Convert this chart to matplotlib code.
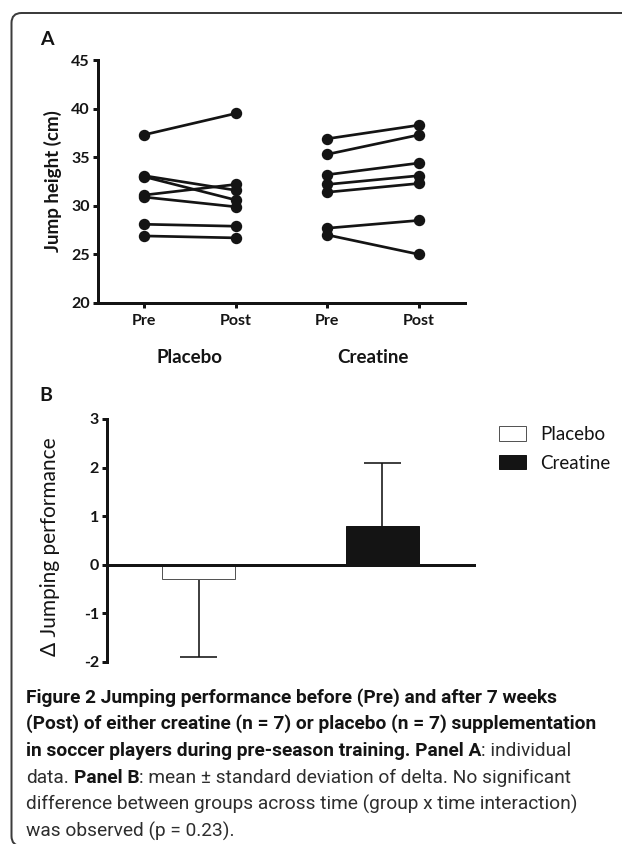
import matplotlib
matplotlib.use('Agg')
import matplotlib.pyplot as plt
from matplotlib import font_manager
from matplotlib.patches import FancyBboxPatch
from matplotlib.transforms import IdentityTransform
import numpy as np

plt.rcParams['axes.unicode_minus'] = False

# ---------------- data ----------------
conditions = ['Pre', 'Post', 'Pre', 'Post']
groups = ['Placebo', 'Creatine']
placebo_pre = [37.3, 33.1, 33.0, 31.1, 30.9, 28.1, 26.9]
placebo_post = [39.5, 31.6, 30.6, 32.2, 29.9, 27.9, 26.7]
creatine_pre = [36.9, 35.3, 33.2, 32.2, 31.4, 27.7, 27.0]
creatine_post = [38.3, 37.3, 34.4, 33.1, 32.3, 28.5, 25.0]
yticks_a = [20, 25, 30, 35, 40, 45]
delta_mean = [-0.3, 0.8]
delta_sd = [1.6, 1.3]
yticks_b = [-2, -1, 0, 1, 2, 3]

caption = [
    [("Figure 2 Jumping performance before (Pre) and after 7 weeks", 'bold', False)],
    [("(Post) of either creatine (n = 7) or placebo (n = 7) supplementation", 'bold', False)],
    [("in soccer players during pre-season training. Panel A", 'bold', False),
     (": individual", 'normal', False)],
    [("data.", 'normal', False), ("Panel B", 'bold', True),
     (": mean \u00b1 standard deviation of delta. No significant", 'normal', False)],
    [("difference between groups across time (group x time interaction)", 'normal', False)],
    [("was observed (p = 0.23).", 'normal', False)],
]

# ---------------- fonts ----------------
available = {f.name for f in font_manager.fontManager.ttflist}
def pick(cands):
    for c in cands:
        if c in available:
            return c
    return 'DejaVu Sans'
AX_FONT = pick(['Lato', 'Open Sans', 'DejaVu Sans'])
CAP_FONT = pick(['Roboto', 'Open Sans', 'DejaVu Sans'])
plt.rcParams['font.family'] = [AX_FONT, 'DejaVu Sans']

W, H = 622, 844
DARK = '#141414'
PX = 0.72  # points per pixel at dpi 100

fig = plt.figure(figsize=(W / 100, H / 100), dpi=100)

def box(l, t, r, b):
    return [l / W, 1 - b / H, (r - l) / W, (b - t) / H]

def style_axes(ax):
    for s in ['top', 'right']:
        ax.spines[s].set_visible(False)
    for s in ['left', 'bottom']:
        ax.spines[s].set_linewidth(3 * PX)
        ax.spines[s].set_color(DARK)
    ax.tick_params(axis='both', direction='out', length=5 * PX, width=3 * PX,
                   color=DARK, labelsize=11.5, labelcolor=DARK)
    for lab in ax.get_xticklabels() + ax.get_yticklabels():
        lab.set_fontweight('bold')

# ---------------- panel A ----------------
axA = fig.add_axes(box(98, 60, 465, 303))
xa = np.arange(len(conditions))
for pre, post, (i0, i1) in [(placebo_pre, placebo_post, (0, 1)),
                             (creatine_pre, creatine_post, (2, 3))]:
    xs = np.array([[xa[i0]] * len(pre), [xa[i1]] * len(post)])
    ys = np.array([pre, post])
    axA.plot(xs, ys, '-o', color=DARK, lw=2.7 * PX, ms=10 * PX, clip_on=False)
axA.set_xlim(-0.5, 3.5)
axA.set_ylim(20, 45)
axA.set_yticks(yticks_a)
axA.set_xticks(xa)
axA.set_xticklabels(conditions)
style_axes(axA)
axA.tick_params(axis='y', pad=2.5)
axA.tick_params(axis='x', pad=4.5)
axA.set_ylabel('Jump height (cm)', fontsize=13.5, fontweight='bold', color=DARK, va='center')
axA.yaxis.set_label_coords((53 - 98) / (465 - 98), 0.5)
for gi, g in enumerate(groups):
    axA.text((xa[2 * gi] + xa[2 * gi + 1]) / 2, (303 - 362.7) / 243, g,
             transform=axA.get_xaxis_transform(), ha='center', va='baseline',
             fontsize=13.5, fontweight='bold', color=DARK)
fig.text(40 / W, 1 - 45 / H, 'A', fontsize=14, fontweight='bold', color=DARK,
         ha='left', va='baseline')

# ---------------- panel B ----------------
axB = fig.add_axes(box(107, 419, 474, 661.7))
xb = np.arange(len(groups))
bars = axB.bar(xb, delta_mean, width=0.4, color=['white', DARK],
               edgecolor=['#555555', DARK], linewidth=1.0 * PX, zorder=2)
for x, m, s in zip(xb, delta_mean, delta_sd):
    end = m + np.sign(m) * s
    axB.vlines(x, m, end, color=DARK, lw=1.6 * PX, zorder=1)
    axB.hlines(end, x - 0.1, x + 0.1, color=DARK, lw=1.6 * PX, zorder=1)
axB.set_xlim(-0.5, 1.5)
axB.set_ylim(-2, 3)
axB.set_yticks(yticks_b)
axB.set_xticks([])
style_axes(axB)
axB.spines['bottom'].set_position(('data', 0))
axB.spines['bottom'].set_zorder(3)
axB.tick_params(axis='y', pad=2)
axB.set_ylabel('\u0394 Jumping performance', fontsize=15, color=DARK, va='center')
axB.yaxis.set_label_coords((50 - 107) / (474 - 107), (661.7 - 547) / (661.7 - 419))
axB.legend(bars.patches, groups, loc='upper left',
           bbox_to_anchor=(499 / W, 1 - 426 / H), bbox_transform=fig.transFigure,
           frameon=False, borderpad=0, borderaxespad=0, fontsize=13.5,
           handlelength=27 / 18.75, handleheight=15 / 18.75,
           handletextpad=14 / 18.75, labelspacing=0.62, labelcolor=DARK)
fig.text(39 / W, 1 - 401 / H, 'B', fontsize=14, fontweight='bold', color=DARK,
         ha='left', va='baseline')

# ---------------- border ----------------
border = FancyBboxPatch((11.5, -2), 800, 833, boxstyle='round,pad=0,rounding_size=10',
                        transform=IdentityTransform(), fill=False,
                        ec='#3c3c3c', lw=2 * PX)
fig.add_artist(border)

# ---------------- caption ----------------
renderer = fig.canvas.get_renderer()

def twidth(s, weight, size):
    t = fig.text(0, 0, s, fontsize=size, fontweight=weight, family=CAP_FONT)
    w = t.get_window_extent(renderer).width
    t.remove()
    return w

ref_line = caption[1][0][0]
cap_size = 10 * 574 / twidth(ref_line, 'bold', 10)
space_w = {wt: twidth('x x', wt, cap_size) - twidth('xx', wt, cap_size)
           for wt in ['bold', 'normal']}
for li, line in enumerate(caption):
    y = 702.5 + 26.8 * li
    x = 26
    for s, wt, sp in line:
        if sp:
            x += space_w[wt]
        t = fig.text(x / W, 1 - y / H, s, fontsize=cap_size, fontweight=wt,
                     family=CAP_FONT, color=DARK if wt == 'bold' else '#2e2e2e',
                     ha='left', va='baseline')
        x += t.get_window_extent(renderer).width

fig.savefig('out.png', dpi=100)
